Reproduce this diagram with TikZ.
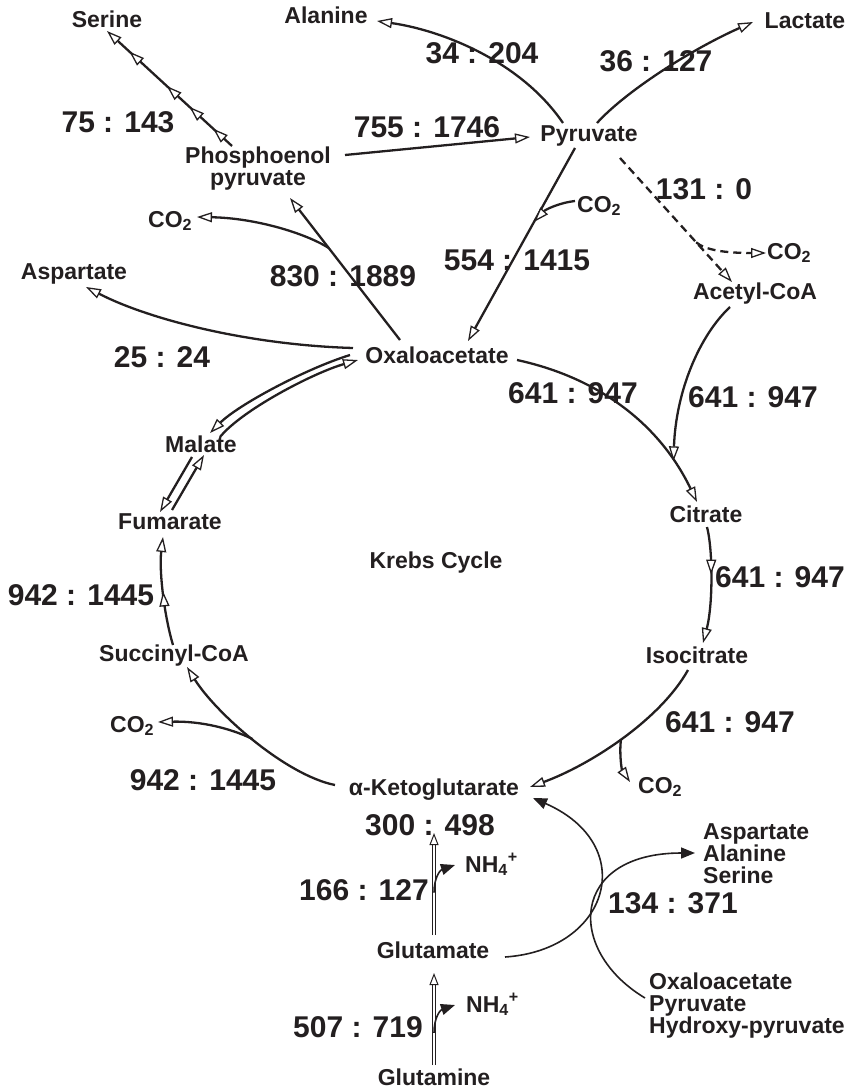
\documentclass[tikz,border=0pt]{standalone}
\usepackage{fontspec}
\setmainfont{Liberation Sans}
\usetikzlibrary{arrows.meta,decorations.markings}
\definecolor{ink}{RGB}{35,31,32}
\tikzset{
  otip/.tip={Triangle[fill=white,line width=1.3pt,length=15pt,width=10pt]},
  stip/.tip={Triangle[length=14pt,width=11pt]},
  dtip/.tip={Triangle[fill=white,line width=1pt,length=12pt,width=9pt]},
  lbl/.style={font=\fontsize{23}{22}\selectfont\bfseries, inner sep=0pt, anchor=base},
  num/.style={font=\fontsize{30}{30}\selectfont\bfseries, inner sep=0pt, anchor=base},
  flow/.style={line width=2.3pt, arrows={-otip}},
  dflow/.style={flow, dash pattern=on 8pt off 5pt},
  sflow/.style={line width=1.6pt, arrows={-stip}},
  dbl/.style={double, line width=1pt, double distance=1.8pt, arrows={-dtip}},
}
\begin{document}
\begin{tikzpicture}[x=1pt,y=-1pt,color=ink]
\useasboundingbox (0,0) rectangle (853,1089);

% ---- labels ----
\node[lbl] (ser) at (107,28) {Serine};
\node[lbl] (ala) at (326,24) {Alanine};
\node[lbl] (lac) at (805,29) {Lactate};
\node[lbl] (pyr) at (589,142) {Pyruvate};
\node[lbl, align=center, anchor=north] (pep) at (258,147) {Phosphoenol\\pyruvate};
\node[lbl, anchor=base west] (co2a) at (577,212) {CO\textsubscript{2}};
\node[lbl, anchor=base west] (co2b) at (767,259) {CO\textsubscript{2}};
\node[lbl] (aca) at (755,299) {Acetyl-CoA};
\node[lbl, anchor=base west] (co2c) at (148,227) {CO\textsubscript{2}};
\node[lbl] (aspL) at (74,279) {Aspartate};
\node[lbl] (oaa) at (437,363) {Oxaloacetate};
\node[lbl] (mal) at (201,452) {Malate};
\node[lbl] (fum) at (170,529) {Fumarate};
\node[lbl] (krebs) at (436,568) {Krebs Cycle};
\node[lbl] (cit) at (706,522) {Citrate};
\node[lbl] (iso) at (697,663) {Isocitrate};
\node[lbl, anchor=base west] (co2d) at (638,793) {CO\textsubscript{2}};
\node[lbl] (akg) at (434,795) {α-Ketoglutarate};
\node[lbl, anchor=base west] (co2e) at (110,732) {CO\textsubscript{2}};
\node[lbl] (suc) at (174,661) {Succinyl-CoA};
\node[lbl, anchor=base west] (nh4a) at (465,872) {NH\textsubscript{4}\textsuperscript{+}};
\node[lbl] (glu) at (433,958) {Glutamate};
\node[lbl, anchor=base west] (nh4b) at (466,1012) {NH\textsubscript{4}\textsuperscript{+}};
\node[lbl] (gln) at (434,1085) {Glutamine};
\node[lbl, align=left, anchor=north west] (listA) at (703,823) {Aspartate\\Alanine\\Serine};
\node[lbl, align=left, anchor=north west] (listB) at (649,973) {Oxaloacetate\\Pyruvate\\Hydroxy-pyruvate};

% ---- numbers ----
\node[num] (r34) at (482,64) {34 : 204};
\node[num] (r36) at (656,72) {36 : 127};
\node[num] (r75) at (118,132) {75 : 143};
\node[num] (r755) at (427,138) {755 : 1746};
\node[num] (r131) at (704,199) {131 : 0};
\node[num] (r554) at (517,270) {554 : 1415};
\node[num] (r830) at (343,286) {830 : 1889};
\node[num] (r25) at (162,367) {25 : 24};
\node[num] (r641a) at (573,403) {641 : 947};
\node[num] (r641b) at (753,407) {641 : 947};
\node[num] (r641c) at (780,587) {641 : 947};
\node[num] (r641d) at (730,732) {641 : 947};
\node[num] (r942a) at (81,605) {942 : 1445};
\node[num] (r942b) at (203,790) {942 : 1445};
\node[num] (r300) at (430,835) {300 : 498};
\node[num] (r166) at (364,900) {166 : 127};
\node[num] (r507) at (358,1037) {507 : 719};
\node[num] (r134) at (673,913) {134 : 371};

% ---- connectors ----
% PEP -> Serine (chain of heads)
\draw[flow, postaction={decorate}, decoration={markings,
    mark=at position 0.15 with {\arrow{otip}},
    mark=at position 0.34 with {\arrow{otip}},
    mark=at position 0.52 with {\arrow{otip}},
    mark=at position 0.82 with {\arrow{otip}}}]
  ([shift={(-26,-1)}]pep.north) -- ([shift={(0,3)}]ser.base);
% Pyruvate -> Alanine
\draw[flow] ([shift={(-26,-19)}]pyr.base) .. controls (520,60) and (440,30) .. ([shift={(51,-3)}]ala.base);
% Pyruvate -> Lactate
\draw[flow] ([shift={(8,-19)}]pyr.base) .. controls (625,92) and (690,50) .. ([shift={(-52,-7)}]lac.base);
% PEP -> Pyruvate
\draw[flow] ([shift={(87,8)}]pep.north) -- ([shift={(-59,-5)}]pyr.base);
% Pyruvate -> Oxaloacetate
\draw[flow] ([shift={(-14,6)}]pyr.base) -- coordinate[pos=0.383] (p1) ([shift={(31,-22)}]oaa.base);
% CO2 -> in
\draw[flow] ([shift={(-2,-11)}]co2a.base west) .. controls (558,203) and (545,210) .. (p1);
% Pyruvate -> Acetyl-CoA (dashed)
\draw[dflow] ([shift={(31,16)}]pyr.base) -- coordinate[pos=0.68] (p2) ([shift={(-23,-17)}]aca.base);
\draw[dflow] (p2) .. controls (705,250) and (725,253) .. ([shift={(-1,-6)}]co2b.base west);
% Oxaloacetate -> PEP
\draw[flow] ([shift={(-37,-23)}]oaa.base) -- coordinate[pos=0.648] (p3) ([shift={(32,51)}]pep.north);
\draw[flow] (p3) .. controls (305,233) and (255,218) .. ([shift={(49,-10)}]co2c.base west);
% Oxaloacetate -> Aspartate
\draw[flow] ([shift={(-84,-15)}]oaa.base) .. controls (250,345) and (150,320) .. ([shift={(12,8)}]aspL.base);
% Oxaloacetate <-> Malate
\draw[flow] ([shift={(-87,-8)}]oaa.base) .. controls (305,369) and (238,405) .. ([shift={(9,-19)}]mal.base);
\draw[flow] ([shift={(19,-15)}]mal.base) .. controls (242,410) and (313,373) .. ([shift={(-79,-3)}]oaa.base);
% Malate <-> Fumarate
\draw[flow] ([shift={(-9,5)}]mal.base) -- ([shift={(-10,-17)}]fum.base);
\draw[flow] ([shift={(2,-19)}]fum.base) -- ([shift={(3,3)}]mal.base);
% Succinyl-CoA -> Fumarate
\draw[flow, postaction={decorate}, decoration={markings, mark=at position 0.5 with {\arrow{otip}}}]
  ([shift={(-1,-16)}]suc.base) .. controls (164,615) and (159,570) .. ([shift={(-7,8)}]fum.base);
% alpha-KG -> Succinyl-CoA
\draw[flow] ([shift={(-99,-10)}]akg.base) .. controls (285,775) and (215,712) .. coordinate[pos=0.5] (p4) ([shift={(13,6)}]suc.base);
\draw[flow] (p4) .. controls (230,728) and (200,721) .. ([shift={(48,-10)}]co2e.base west);
% Isocitrate -> alpha-KG
\draw[flow] ([shift={(-9,7)}]iso.base) .. controls (660,720) and (590,765) .. coordinate[pos=0.5] (p5) ([shift={(96,-8)}]akg.base);
\draw[flow] (p5) .. controls (619,755) and (622,770) .. ([shift={(-8,-11)}]co2d.base west);
% Citrate -> Isocitrate
\draw[flow, postaction={decorate}, decoration={markings, mark=at position 0.41 with {\arrow{otip}}}]
  ([shift={(1,5)}]cit.base) .. controls (713,550) and (713,605) .. ([shift={(6,-20)}]iso.base);
% Oxaloacetate -> Citrate
\draw[flow] ([shift={(80,-3)}]oaa.base) .. controls (600,378) and (660,425) .. coordinate[pos=0.81] (p6) ([shift={(-9,-20)}]cit.base);
% Acetyl-CoA -> Citrate
\draw[flow] ([shift={(-25,8)}]aca.base) .. controls (700,335) and (676,390) .. (p6);
% Glutamate -> alpha-KG
\draw[dbl] ([shift={(1,-23)}]glu.base) -- coordinate[pos=0.416] (p7) ([shift={(4,-2)}]r300.base);
\draw[sflow] (p7) .. controls (434,878) and (440,870) .. ([shift={(-10,-7)}]nh4a.base west);
% Glutamine -> Glutamate
\draw[dbl] ([shift={(0,-20)}]gln.base) -- coordinate[pos=0.35] (p8) ([shift={(1,15)}]glu.base);
\draw[sflow] (p8) .. controls (434,1018) and (440,1010) .. ([shift={(-11,-7)}]nh4b.base west);
% Glutamate -> alpha-KG (transamination)
\draw[sflow] ([shift={(72,-1)}]glu.base) .. controls (610,950) and (640,845) .. ([shift={(99,3)}]akg.base);
% keto acids -> amino acids
\draw[sflow] ([shift={(-4,25)}]listB.north west) .. controls (565,950) and (570,853) .. ([shift={(-8,30)}]listA.north west);
\end{tikzpicture}
\end{document}
